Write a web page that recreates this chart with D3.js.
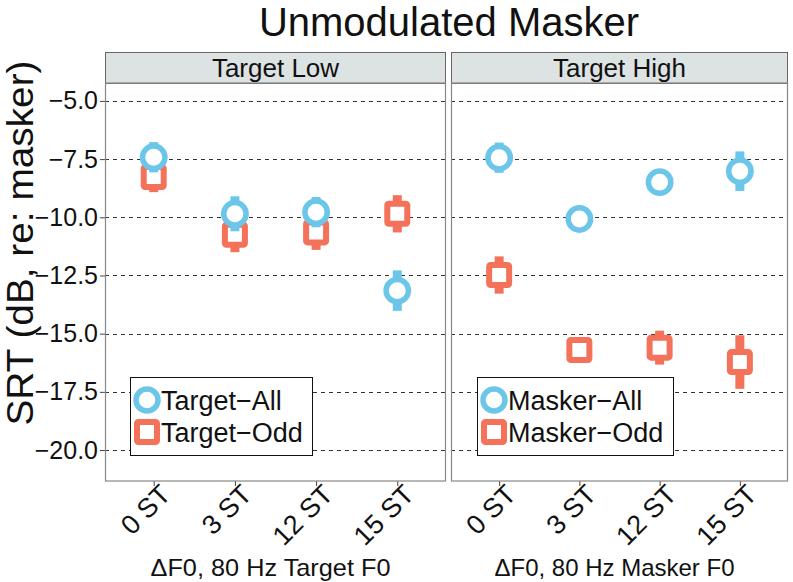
<!DOCTYPE html>
<html>
<head>
<meta charset="utf-8">
<script src="https://cdn.jsdelivr.net/npm/d3@7"></script>
<style>
  body { margin: 0; background: #fff; }
  svg { display: block; font-family: 'Liberation Sans', Arial, sans-serif; }
</style>
</head>
<body>
<svg id="chart" width="793" height="582"></svg>
<script>

// chart values
const deltaF0Labels = ['0 ST', '3 ST', '12 ST', '15 ST'];
const yTickValues = [-5, -7.5, -10, -12.5, -15, -17.5, -20];
const panelTitles = ['Target Low', 'Target High'];
const xTitles = ['\u0394F0, 80 Hz Target F0', '\u0394F0, 80 Hz Masker F0'];
const legendLow = ['Target\u2212All', 'Target\u2212Odd'];
const legendHigh = ['Masker\u2212All', 'Masker\u2212Odd'];

const targetAllSrt = [-7.42, -9.85, -9.78, -13.15];
const targetAllSe = [0.65, 0.75, 0.65, 0.87];
const targetOddSrt = [-8.27, -10.75, -10.65, -9.85];
const targetOddSe = [0.65, 0.75, 0.75, 0.8];
const maskerAllSrt = [-7.44, -10.07, -8.49, -8.02];
const maskerAllSe = [0.65, 0.35, 0.3, 0.85];
const maskerOddSrt = [-12.48, -15.7, -15.6, -16.22];
const maskerOddSe = [0.8, 0.4, 0.73, 1.15];

const BLUE = '#6cc6ea';
const CORAL = '#f47259';


/**
 * One facet of the plot.
 * @class
 */
class Panel {


  /**
   * @constructor
   * @param {Function} yScale
   * @param {Number} x0
   * @param {Number} x1
   */
  constructor(yScale, x0, x1) {

    this._yScale = yScale;
    this._x0 = x0;
    this._x1 = x1;
    this._xScale = d3.scalePoint()
      .domain(deltaF0Labels)
      .range([x0, x1])
      .padding(0.6);
  }


  /**
   * @static
   * @returns {Panel}
   */
  static getInstance(yScale, x0, x1) {

    return new Panel(yScale, x0, x1);
  }


  /**
   * Set data.
   * @param {Object} data
   * @returns {Panel}
   */
  setData(data) {

    this._data = data;
    return this;
  }


  /**
   * Render panel.
   * @param {SVGElement} container
   * @returns {Panel}
   */
  renderTo(container) {

    const y = this._yScale;
    const x = this._xScale;
    const top = y.range()[1];
    const bottom = y.range()[0];
    const width = this._x1 - this._x0;

    this._container = d3.select(container);

    // strip
    this._container.append('rect')
      .attr('x', this._x0 + 0.5)
      .attr('y', 52.5)
      .attr('width', width - 1)
      .attr('height', top - 52)
      .style('fill', '#dde2e3')
      .style('stroke', '#666')
      .style('stroke-width', 1);

    this._container.append('text')
      .attr('x', (this._x0 + this._x1) / 2)
      .attr('y', 77)
      .attr('text-anchor', 'middle')
      .style('font-size', '26px')
      .style('fill', '#111')
      .text(this._data.title);

    // grid
    this._container.selectAll('.grid')
      .data(yTickValues)
      .enter()
      .append('line')
      .attr('class', 'grid')
      .attr('x1', this._x0)
      .attr('x2', this._x1)
      .attr('y1', d => Math.round(y(d)) + 0.5)
      .attr('y2', d => Math.round(y(d)) + 0.5)
      .style('stroke', '#333')
      .style('stroke-width', 1)
      .style('stroke-dasharray', '4,4');

    // x axis
    const xAxis = this._container.append('g')
      .attr('transform', `translate(0,${bottom})`)
      .call(d3.axisBottom(x).tickSize(5).tickSizeOuter(0));
    xAxis.select('.domain').remove();
    xAxis.selectAll('line').style('stroke', '#444');
    xAxis.selectAll('text')
      .attr('x', null)
      .attr('y', null)
      .attr('dy', null)
      .attr('text-anchor', 'end')
      .attr('transform', 'translate(18,15) rotate(-45)')
      .style('font-size', '27px')
      .style('font-family', "'Liberation Sans', Arial, sans-serif")
      .style('fill', '#111');

    // series: odd first, all on top
    this._data.series.forEach(s => {
      const g = this._container.append('g');
      const pts = s.values.map((v, i) => ({ label: deltaF0Labels[i], v: v, se: s.se[i] }));

      g.selectAll('rect.err')
        .data(pts)
        .enter()
        .append('rect')
        .attr('class', 'err')
        .attr('x', d => x(d.label) - 4.5)
        .attr('y', d => y(d.v + d.se))
        .attr('width', 9)
        .attr('height', d => y(d.v - d.se) - y(d.v + d.se))
        .style('fill', s.color);

      if (s.shape === 'circle') {
        g.selectAll('circle')
          .data(pts)
          .enter()
          .append('circle')
          .attr('cx', d => x(d.label))
          .attr('cy', d => y(d.v))
          .attr('r', 11.2)
          .style('fill', '#fff')
          .style('stroke', s.color)
          .style('stroke-width', 5.5);
      } else {
        g.selectAll('rect.pt')
          .data(pts)
          .enter()
          .append('rect')
          .attr('class', 'pt')
          .attr('x', d => x(d.label) - 10)
          .attr('y', d => y(d.v) - 10)
          .attr('width', 20)
          .attr('height', 20)
          .attr('rx', 1.5)
          .style('fill', '#fff')
          .style('stroke', s.color)
          .style('stroke-width', 6);
      }
    });

    // panel border
    this._container.append('rect')
      .attr('x', this._x0 + 0.5)
      .attr('y', top)
      .attr('width', width - 1)
      .attr('height', bottom - top)
      .style('fill', 'none')
      .style('stroke', '#888')
      .style('stroke-width', 1.2);

    // legend
    const lx = this._x0 + this._data.legendOffset;
    const legend = this._container.append('g')
      .attr('transform', `translate(${lx},377)`);

    legend.append('rect')
      .attr('x', 0.5)
      .attr('y', 0.5)
      .attr('width', this._data.legendWidth)
      .attr('height', 78)
      .style('fill', '#fff')
      .style('stroke', '#111')
      .style('stroke-width', 1);

    const order = this._data.series.slice().reverse();
    order.forEach((s, i) => {
      const cy = 23 + i * 32;
      if (s.shape === 'circle') {
        legend.append('circle')
          .attr('cx', 17)
          .attr('cy', cy)
          .attr('r', 11)
          .style('fill', '#fff')
          .style('stroke', s.color)
          .style('stroke-width', 5.5);
      } else {
        legend.append('rect')
          .attr('x', 7)
          .attr('y', cy - 10)
          .attr('width', 20)
          .attr('height', 20)
          .attr('rx', 1.5)
          .style('fill', '#fff')
          .style('stroke', s.color)
          .style('stroke-width', 6);
      }
      legend.append('text')
        .attr('x', 31)
        .attr('y', cy + 9.5)
        .style('font-size', '27px')
        .style('fill', '#111')
        .text(s.name);
    });

    // bottom title
    this._container.append('text')
      .attr('x', (this._x0 + this._x1) / 2 - 5)
      .attr('y', 576)
      .attr('text-anchor', 'middle')
      .attr('textLength', 240)
      .attr('lengthAdjust', 'spacingAndGlyphs')
      .style('font-size', '24px')
      .style('fill', '#111')
      .text(this._data.xTitle);

    return this;
  }
}


const svg = d3.select('#chart');

const yScale = d3.scaleLinear()
  .domain([-21.33, -4.23])
  .range([481, 83]);

svg.append('text')
  .attr('x', 449)
  .attr('y', 36)
  .attr('text-anchor', 'middle')
  .style('font-size', '40px')
  .style('fill', '#111')
  .text('Unmodulated Masker');

svg.append('text')
  .attr('transform', 'translate(33,243) rotate(-90)')
  .attr('text-anchor', 'middle')
  .attr('textLength', 365)
  .attr('lengthAdjust', 'spacingAndGlyphs')
  .style('font-size', '36.5px')
  .style('fill', '#111')
  .text('SRT (dB, re: masker)');

// y axis
const yAxis = svg.append('g')
  .attr('transform', 'translate(105,0)')
  .call(d3.axisLeft(yScale)
    .tickValues(yTickValues)
    .tickSize(5)
    .tickPadding(2)
    .tickFormat(d3.format('.1f')));
yAxis.select('.domain').remove();
yAxis.selectAll('line').style('stroke', '#444');
yAxis.selectAll('text')
  .style('font-size', '25px')
  .style('font-family', "'Liberation Sans', Arial, sans-serif")
  .style('fill', '#111');

const low = svg.append('g').node();
Panel.getInstance(yScale, 105, 446)
  .setData({
    title: panelTitles[0],
    xTitle: xTitles[0],
    legendOffset: 25,
    legendWidth: 182,
    series: [
      { name: legendLow[1], values: targetOddSrt, se: targetOddSe, color: CORAL, shape: 'square' },
      { name: legendLow[0], values: targetAllSrt, se: targetAllSe, color: BLUE, shape: 'circle' }
    ]
  })
  .renderTo(low);

const high = svg.append('g').node();
Panel.getInstance(yScale, 451, 788)
  .setData({
    title: panelTitles[1],
    xTitle: xTitles[1],
    legendOffset: 26,
    legendWidth: 196,
    series: [
      { name: legendHigh[1], values: maskerOddSrt, se: maskerOddSe, color: CORAL, shape: 'square' },
      { name: legendHigh[0], values: maskerAllSrt, se: maskerAllSe, color: BLUE, shape: 'circle' }
    ]
  })
  .renderTo(high);

</script>
</body>
</html>
